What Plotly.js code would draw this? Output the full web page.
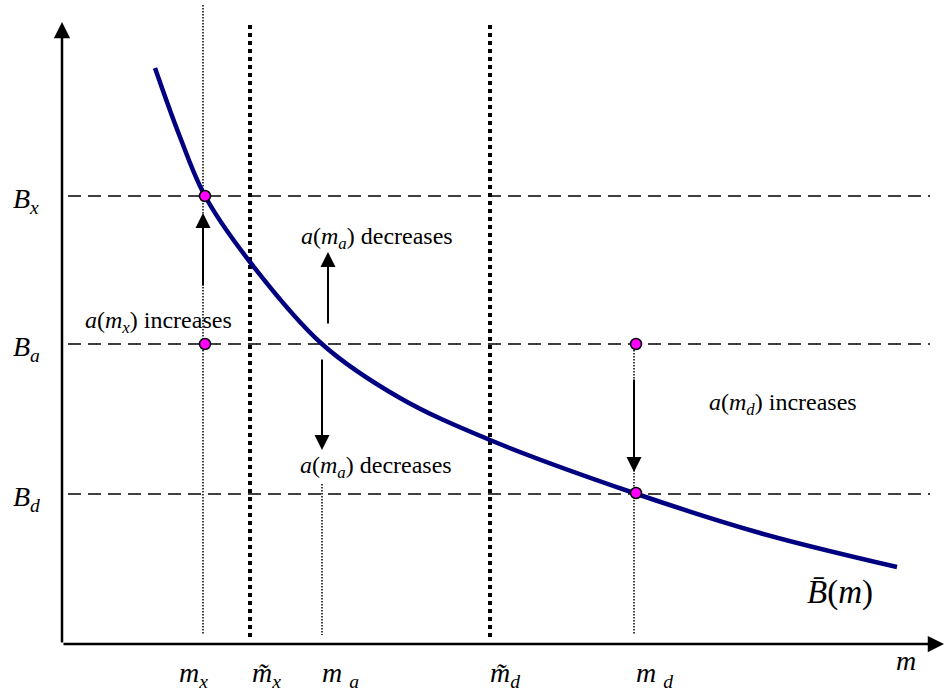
<!DOCTYPE html>
<html>
<head>
<meta charset="utf-8">
<script src="https://cdn.plot.ly/plotly-3.0.1.min.js"></script>
<style>html,body{margin:0;padding:0;background:#fff;}#chart{width:944px;height:695px;}</style>
</head>
<body>
<div id="chart"></div>
<script>
// Schematic coordinates (m to the right, B measured downward on screen scale)
const curveM = [155, 180, 205, 250, 322, 400, 490, 634, 760, 897];
const curveB = [68, 137, 196, 262, 344, 398, 440, 493, 533, 567];

const levelNames = ['<i>B</i><sub><i>x</i></sub>', '<i>B</i><sub><i>a</i></sub>', '<i>B</i><sub><i>d</i></sub>'];
const levelValues = [196, 344, 494];
const levelStart = 68, levelEnd = 930;

const mNames = ['<i>m</i><sub><i>x</i></sub>', '<i>m\u0303</i><sub><i>x</i></sub>', '<i>m</i> <sub><i>a</i></sub>', '<i>m\u0303</i><sub><i>d</i></sub>', '<i>m</i> <sub><i>d</i></sub>'];
const mValues = [203, 250, 322, 490, 634];
const mLabelX = [193, 266, 340, 505, 654];

// thin guide lines [m, from, to]
const thinM = [203, 322, 634];
const thinFrom = [5, 484, 344];
const thinTo = [635, 635, 635];
// thick dotted guides
const thickM = [250, 490];
const thickFrom = [25, 25];
const thickTo = [638, 638];

const ptM = [205, 205, 636, 636];
const ptB = [196, 344, 344, 493];

// arrows: tip and tail
const arrM = [203, 328, 322, 634];
const arrTail = [287, 325, 358, 378];
const arrTip = [213, 252, 450, 472];

const texts = ['<i>a</i>(<i>m</i><sub><i>x</i></sub>) increases', '<i>a</i>(<i>m</i><sub><i>a</i></sub>) decreases', '<i>a</i>(<i>m</i><sub><i>a</i></sub>) decreases', '<i>a</i>(<i>m</i><sub><i>d</i></sub>) increases'];
const textM = [158, 377, 376, 783];
const textB = [322, 238, 467, 404];

const axisOrigin = [62, 644];
const FONT = 'Liberation Serif';

const traces = [];
levelValues.forEach(v => traces.push({x:[levelStart, levelEnd], y:[v, v], mode:'lines', line:{color:'#000', width:1.5, dash:'13px,7px'}, hoverinfo:'skip'}));
thinM.forEach((m,i) => traces.push({x:[m, m], y:[thinFrom[i], thinTo[i]], mode:'lines', line:{color:'#000', width:1.5, dash:'1.5px,1.5px'}, hoverinfo:'skip'}));
thickM.forEach((m,i) => traces.push({x:[m, m], y:[thickFrom[i], thickTo[i]], mode:'lines', line:{color:'#000', width:4, dash:'4px,4px'}, hoverinfo:'skip'}));
traces.push({x:curveM, y:curveB, mode:'lines', line:{color:'#000080', width:4.5, shape:'spline', smoothing:1}, hoverinfo:'skip'});
traces.push({x:ptM, y:ptB, mode:'markers', marker:{color:'#ff00ff', size:11, line:{color:'#000', width:1.5}}, hoverinfo:'skip'});

const ann = [];
// axes
ann.push({x:axisOrigin[0], y:22, ax:axisOrigin[0], ay:axisOrigin[1], axref:'x', ayref:'y', xref:'x', yref:'y', text:'', showarrow:true, arrowhead:2, arrowwidth:2.5, arrowsize:1.3, arrowcolor:'#000', standoff:0});
ann.push({x:944, y:axisOrigin[1], ax:axisOrigin[0], ay:axisOrigin[1], axref:'x', ayref:'y', xref:'x', yref:'y', text:'', showarrow:true, arrowhead:2, arrowwidth:2.5, arrowsize:1.3, arrowcolor:'#000', standoff:0});
arrM.forEach((m,i) => ann.push({x:m, y:arrTip[i], ax:m, ay:arrTail[i], axref:'x', ayref:'y', xref:'x', yref:'y', text:'', showarrow:true, arrowhead:2, arrowwidth:2, arrowsize:1.5, arrowcolor:'#000', standoff:0}));
texts.forEach((t,i) => ann.push({x:textM[i], y:textB[i], text:t, showarrow:false, xref:'x', yref:'y', xanchor:'center', yanchor:'middle', font:{family:FONT, size:24, color:'#000'}}));
levelNames.forEach((t,i) => ann.push({x:26, y:levelValues[i]+4, text:t, showarrow:false, xref:'x', yref:'y', xanchor:'center', yanchor:'middle', font:{family:FONT, size:28, color:'#000'}}));
mNames.forEach((t,i) => ann.push({x:mLabelX[i], y:674, text:t, showarrow:false, xref:'x', yref:'y', xanchor:'center', yanchor:'middle', font:{family:FONT, size:28, color:'#000'}}));
ann.push({x:906, y:660, text:'<i>m</i>', showarrow:false, xref:'x', yref:'y', xanchor:'center', yanchor:'middle', font:{family:FONT, size:28, color:'#000'}});
ann.push({x:840, y:592, text:'<i>B\u0304</i>(<i>m</i>)', showarrow:false, xref:'x', yref:'y', xanchor:'center', yanchor:'middle', font:{family:FONT, size:33, color:'#000'}});

const layout = {
  width:944, height:695, margin:{l:0, r:0, t:0, b:0},
  paper_bgcolor:'#fff', plot_bgcolor:'#fff', showlegend:false,
  xaxis:{range:[0,944], visible:false, fixedrange:true},
  yaxis:{range:[695,0], visible:false, fixedrange:true},
  annotations:ann
};
Plotly.newPlot('chart', traces, layout, {staticPlot:true, displayModeBar:false});
</script>
</body>
</html>
